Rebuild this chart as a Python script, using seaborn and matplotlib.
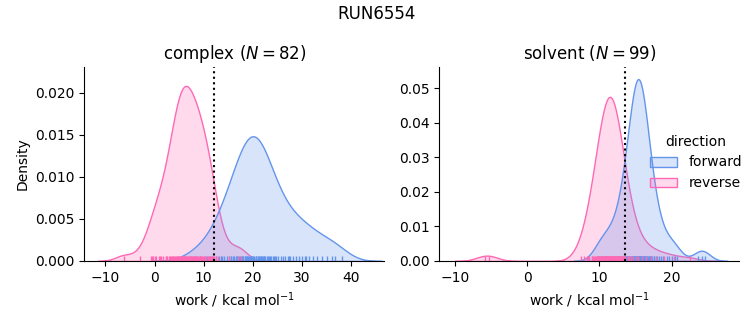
import numpy as np
import pandas as pd
import matplotlib
matplotlib.use("Agg")
import matplotlib.pyplot as plt
import seaborn as sns

complex_reverse = [-6.3, -2.9, -0.8, -0.4, 0.3, 0.9, 1.35, 1.8, 2.3, 2.6,
                   3.0, 3.35, 3.55, 3.8, 4.0, 4.25, 4.5, 4.7, 4.8, 5.05,
                   5.15, 5.3, 5.5, 5.6, 5.75, 5.85, 5.95, 6.1, 6.2, 6.3,
                   6.4, 3.7, 6.65, 4.6, 6.9, 7.0, 10.2, 7.25, 11.0, 7.45,
                   11.7, 7.7, 7.8, 7.9, 8.05, 8.15, 8.25, 8.4, 8.5, 8.7,
                   8.85, 8.95, 9.2, 9.3, 9.55, 9.65, 9.9, 10.1, 10.35, 10.55,
                   10.8, 11.0, 11.25, 11.5, 11.85, 12.2, 12.5, 4.4, 1.1, 3.2,
                   5.4, 15.2, 6.0, 13.0, 16.9, 17.6, -0.6, 0.1, 2.4, 5.85,
                   7.0, 8.15]
complex_forward = [7.5, 9.3, 10.7, 11.7, 12.5, 13.1, 13.7, 14.2, 14.7, 15.1,
                   15.5, 15.9, 16.2, 16.5, 16.8, 17.2, 17.4, 17.7, 17.9, 18.1,
                   18.4, 18.6, 18.8, 19.0, 19.2, 19.45, 19.65, 19.9, 20.1, 20.3,
                   20.55, 20.75, 21.0, 21.2, 21.4, 21.6, 21.85, 22.05, 22.3, 22.5,
                   22.85, 23.15, 23.5, 23.8, 24.15, 24.45, 24.8, 25.2, 25.65, 26.1,
                   26.55, 27.1, 27.6, 28.2, 28.7, 29.4, 30.0, 30.7, 31.4, 32.2,
                   33.1, 34.1, 35.1, 36.2, 36.8, 38.2, 15.6, 16.7, 17.8, 18.9,
                   20.0, 21.1, 22.2, 23.3, 24.4, 19.55, 20.65, 18.5, 21.75, 13.5,
                   27.4, 30.9]
solvent_reverse = [-5.3, -5.9, 7.4, 7.9, 8.25, 8.6, 8.9, 9.1, 9.4, 9.6,
                   9.75, 9.9, 10.0, 10.1, 10.25, 10.4, 10.5, 10.6, 10.75, 10.9,
                   10.95, 11.0, 11.05, 11.1, 11.2, 11.25, 11.3, 11.4, 11.45, 11.5,
                   11.55, 11.65, 11.7, 11.75, 11.8, 11.9, 11.95, 12.0, 12.05, 12.1,
                   12.25, 12.4, 12.5, 12.6, 12.75, 12.9, 13.0, 13.1, 13.25, 13.4,
                   13.6, 13.9, 14.1, 14.4, 14.6, 15.0, 15.4, 15.9, 16.5, 17.1,
                   17.9, 19.0, 20.3, 22.5, 9.8, 10.05, 10.3, 10.55, 10.8, 11.0,
                   11.3, 11.55, 11.8, 12.05, 12.3, 12.55, 12.8, 9.0, 9.5, 9.95,
                   10.2, 10.45, 10.7, 10.95, 11.2, 11.45, 11.7, 11.95, 12.2, 12.45,
                   12.7, 12.95, 13.2, 13.5, 14.0, 8.4, 9.25, 10.9, 11.6]
solvent_forward = [9.6, 9.9, 10.35, 10.6, 11.3, 11.8, 12.3, 12.65, 13.0, 13.3,
                   13.45, 13.65, 13.8, 14.0, 14.15, 14.3, 14.5, 14.6, 14.8, 14.9,
                   14.95, 15.05, 15.15, 15.25, 15.3, 15.35, 15.45, 15.55, 15.65, 15.7,
                   15.8, 15.9, 16.0, 16.1, 16.35, 16.45, 16.6, 16.8, 16.95, 17.15,
                   17.3, 17.6, 17.95, 18.3, 18.75, 19.3, 20.0, 20.8, 23.7, 24.2,
                   24.6, 13.6, 13.85, 14.2, 14.55, 14.85, 15.0, 15.2, 15.35, 15.45,
                   15.65, 15.8, 16.0, 16.2, 16.4, 16.55, 16.9, 17.2, 17.5, 12.75,
                   13.1, 13.4, 13.7, 14.05, 14.4, 14.75, 14.95, 15.15, 15.25, 15.4,
                   15.6, 15.75, 15.95, 16.1, 16.3, 16.75, 17.0, 17.8, 18.5, 12.1,
                   11.5, 10.9, 19.7, 20.5, 15.05, 15.4, 15.2, 15.55, 14.7]

phases = ["complex", "solvent"]
directions = ["forward", "reverse"]
estimates = [12.0, 13.5]
suptitle = "RUN6554"
xlims = [(-14.3, 46.8), (-12.2, 29.4)]
ylims = [(0, 0.0231), (0, 0.0561)]

series = {("complex", "forward"): complex_forward,
          ("complex", "reverse"): complex_reverse,
          ("solvent", "forward"): solvent_forward,
          ("solvent", "reverse"): solvent_reverse}
rows = []
for ph in phases:
    for d in directions:
        for v in series[(ph, d)]:
            rows.append({"phase": ph, "direction": d, "work": v})
df = pd.DataFrame(rows)

palette = {"forward": "cornflowerblue", "reverse": "hotpink"}

g = sns.displot(data=df, x="work", hue="direction", col="phase", kind="kde",
                fill=True, rug=True, palette=palette, hue_order=directions,
                col_order=phases, facet_kws=dict(sharex=False, sharey=False),
                height=3.25, aspect=1.0)
g.figure.set_size_inches(7.53, 3.25)
for ax, ph, est, xl, yl in zip(g.axes.flat, phases, estimates, xlims, ylims):
    n = len(series[(ph, "forward")])
    ax.set_title(f"{ph} ($N={n}$)", fontsize=12)
    ax.axvline(est, color="black", linestyle=":", linewidth=1.5)
    ax.set_xlabel("work / kcal mol$^{-1}$")
    ax.set_xlim(*xl)
    ax.set_ylim(*yl)
g.axes.flat[0].set_ylabel("Density")
g.axes.flat[1].set_ylabel("")
g.figure.subplots_adjust(left=0.112, right=0.982, bottom=0.197, top=0.794, wspace=0.183)
sns.move_legend(g, "center left", bbox_to_anchor=(0.846, 0.5), frameon=False)
g.figure.suptitle(suptitle, fontsize=12, y=0.985)
g.figure.savefig("out.png", dpi=100)
